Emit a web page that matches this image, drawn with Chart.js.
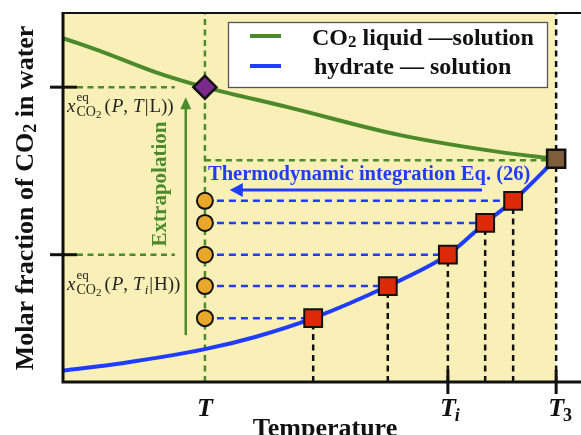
<!DOCTYPE html>
<html>
<head>
<meta charset="utf-8">
<script src="https://cdn.jsdelivr.net/npm/chart.js@4.4.1/dist/chart.umd.min.js"></script>
<style>
  html, body { margin: 0; padding: 0; background: #fff; overflow: hidden; }
  #wrap { width: 581px; height: 435px; overflow: hidden; }
  canvas { display: block; }
</style>
</head>
<body>
<div id="wrap"><canvas id="chart" width="581" height="435" style="width:581px;height:435px"></canvas></div>
<script>
// --- Data (arbitrary units: temperature 0-100 along the axis, molar fraction 0-100) ---
const T_EXTRAP = 27.4;   // T
const T_I = 74.3;        // T_i
const T_3 = 95.2;        // T_3
const tickTemps = [T_EXTRAP, T_I, T_3];
const tickLabels = ['T', 'T|i', 'T|3'];

// CO2 liquid - solution curve
const liquidT = [0, 8.1, 17.8, 27.4, 43.4, 65.1, 84.4, 95.2];
const liquidX = [93.2, 89.2, 84.0, 79.9, 74.5, 66.9, 62.3, 60.5];

// hydrate - solution curve
const hydrateT = [0, 11.4, 27.4, 37.1, 48.3, 62.7, 74.3, 81.5, 86.9, 95.2];
const hydrateX = [3.1, 5.1, 8.9, 12.2, 17.3, 26.0, 34.5, 43.1, 49.1, 60.5];

// simulated hydrate-solution points (squares) and their values carried to T (circles)
const simT = [48.3, 62.7, 74.3, 81.5, 86.9];
const simX = [17.3, 26.0, 34.5, 43.1, 49.1];

// extrapolated liquid value at T (diamond) and triple point (brown square)
const X_LIQ_AT_T = 79.9;
const X_HYD_AT_TI = 34.5;
const X_TRIPLE = 60.5;

// annotation arrows [from, to] in data units
const extrapArrow = { t: 23.7, from: 12.7, to: 77.2 };
const integArrow = { x: 52.0, from: 80.9, to: 32.2 };

const GREEN = '#4c8a2c';
const BLUE = '#1f3cff';
const YELLOW = '#f9f0b7';
const SERIF = '"Liberation Serif", "Times New Roman", serif';

const pts = (xs, ys) => xs.map((x, i) => ({ x: x, y: ys[i] }));

function segment(x1, y1, x2, y2, color, dash) {
    return {
        data: [{ x: x1, y: y1 }, { x: x2, y: y2 }],
        showLine: true, borderColor: color, borderWidth: 2.5, borderDash: dash,
        pointRadius: 0, order: 10
    };
}

// --- Build datasets ---
const datasets = [];
// guide lines
datasets.push(segment(T_EXTRAP, 0, T_EXTRAP, 100, GREEN, [6, 4.5]));
datasets.push(segment(T_3, 0, T_3, 100, '#111', [6, 4.5]));
datasets.push(segment(T_EXTRAP, X_TRIPLE - 0.4, T_3, X_TRIPLE - 0.4, GREEN, [6, 4.5]));
datasets.push(segment(2.7, X_LIQ_AT_T, 21.6, X_LIQ_AT_T, GREEN, [6, 4.5]));
datasets.push(segment(2.7, X_HYD_AT_TI, 21.6, X_HYD_AT_TI, GREEN, [6, 4.5]));
simT.forEach((t, i) => {
    datasets.push(segment(t, 0, t, simX[i], '#111', [6, 4.5]));
    datasets.push(segment(T_EXTRAP, simX[i], t, simX[i], BLUE, [7, 5]));
});
// curves
datasets.push({
    data: pts(liquidT, liquidX), showLine: true, borderColor: GREEN, borderWidth: 4,
    cubicInterpolationMode: 'monotone', pointRadius: 0, order: 5
});
datasets.push({
    data: pts(hydrateT, hydrateX), showLine: true, borderColor: BLUE, borderWidth: 4,
    cubicInterpolationMode: 'monotone', pointRadius: 0, order: 5
});
// markers
datasets.push({
    data: simX.map(x => ({ x: T_EXTRAP, y: x })), showLine: false,
    pointStyle: 'circle', pointRadius: 8, pointBackgroundColor: '#e9a82c',
    pointBorderColor: '#111', pointBorderWidth: 2, order: 1
});
datasets.push({
    data: pts(simT, simX), showLine: false,
    pointStyle: 'rect', pointRadius: 12.6, pointBackgroundColor: '#dc2a08',
    pointBorderColor: '#111', pointBorderWidth: 2, order: 1
});
datasets.push({
    data: [{ x: T_3, y: X_TRIPLE }], showLine: false,
    pointStyle: 'rect', pointRadius: 12.8, pointBackgroundColor: '#7e5d3c',
    pointBorderColor: '#111', pointBorderWidth: 2.5, order: 1
});
datasets.push({
    data: [{ x: T_EXTRAP, y: X_LIQ_AT_T }], showLine: false,
    pointStyle: 'rectRot', pointRadius: 11.5, pointBackgroundColor: '#7a2a8c',
    pointBorderColor: '#111', pointBorderWidth: 2.5, order: 1
});

// draws a run of text pieces: [text, font, dy, extra gap]
function drawRun(ctx, x, y, parts) {
    let cx = x;
    parts.forEach(p => {
        ctx.font = p[1];
        ctx.fillText(p[0], cx, y + (p[2] || 0));
        cx += ctx.measureText(p[0]).width + (p[3] || 0);
    });
    return cx - x;
}
function runWidth(ctx, parts) {
    let w = 0;
    parts.forEach(p => { ctx.font = p[1]; w += ctx.measureText(p[0]).width + (p[3] || 0); });
    return w;
}

function arrowHead(ctx, x, y, dx, dy, len, half) {
    ctx.beginPath();
    ctx.moveTo(x, y);
    ctx.lineTo(x - dx * len - dy * half, y - dy * len + dx * half);
    ctx.lineTo(x - dx * len + dy * half, y - dy * len - dx * half);
    ctx.closePath();
    ctx.fill();
}

function mathLabel(ctx, x, y, sub) {
    const it = 'italic 19px ' + SERIF, rm = '19px ' + SERIF, sm = '14px ' + SERIF, tiny = '11px ' + SERIF;
    ctx.fillStyle = '#222';
    ctx.font = it;
    ctx.fillText('x', x, y);
    const x1 = x + ctx.measureText('x').width + 1;
    ctx.font = '13px ' + SERIF;
    ctx.fillText('eq', x1, y - 11);
    const w = drawRun(ctx, x1, y + 4, [['CO', sm], ['2', tiny, 2]]);
    let parts = [['(', rm, 0, 1], ['P', it, 0, 0], [',', rm, 0, 5], ['T', it, 0, 1]];
    if (sub) parts.push(['i', 'italic 13px ' + SERIF, 4, 1]);
    parts = parts.concat([['|', rm, 0, 1], [sub ? 'H' : 'L', rm, 0, 0], [')', rm], [')', rm]]);
    drawRun(ctx, x1 + w + 3, y, parts);
}

const decorPlugin = {
    id: 'decor',
    beforeDatasetsDraw(chart) {
        const { ctx, chartArea: a, scales: { x, y } } = chart;
        ctx.save();
        ctx.fillStyle = YELLOW;
        ctx.fillRect(a.left, a.top, x.getPixelForValue(T_3) - a.left, a.bottom - a.top);
        ctx.restore();
    },
    afterDatasetsDraw(chart) {
        const { ctx, chartArea: a, scales: { x, y } } = chart;
        ctx.save();
        // frame
        ctx.strokeStyle = '#111';
        ctx.lineWidth = 2;
        ctx.beginPath(); ctx.moveTo(a.left, a.top); ctx.lineTo(chart.width, a.top); ctx.stroke();
        ctx.lineWidth = 3;
        ctx.beginPath(); ctx.moveTo(a.left, a.top - 1); ctx.lineTo(a.left, a.bottom); ctx.lineTo(chart.width, a.bottom); ctx.stroke();
        // y ticks
        [X_LIQ_AT_T, X_HYD_AT_TI].forEach(v => {
            const py = y.getPixelForValue(v);
            ctx.beginPath(); ctx.moveTo(a.left - 13, py); ctx.lineTo(a.left + 14, py); ctx.stroke();
        });
        // x ticks
        [T_I, T_3].forEach(v => {
            const px = x.getPixelForValue(v);
            ctx.beginPath(); ctx.moveTo(px, a.bottom - 12); ctx.lineTo(px, a.bottom + 12); ctx.stroke();
        });

        // arrows
        ctx.strokeStyle = GREEN; ctx.fillStyle = GREEN; ctx.lineWidth = 2.5;
        let ax = x.getPixelForValue(extrapArrow.t);
        let y0 = y.getPixelForValue(extrapArrow.from), y1 = y.getPixelForValue(extrapArrow.to);
        ctx.beginPath(); ctx.moveTo(ax, y0); ctx.lineTo(ax, y1 + 8); ctx.stroke();
        arrowHead(ctx, ax, y1, 0, -1, 12, 5.5);

        ctx.strokeStyle = BLUE; ctx.fillStyle = BLUE; ctx.lineWidth = 3;
        let ay = y.getPixelForValue(integArrow.x);
        let x0 = x.getPixelForValue(integArrow.from), x1 = x.getPixelForValue(integArrow.to);
        ctx.beginPath(); ctx.moveTo(x0, ay); ctx.lineTo(x1 + 8, ay); ctx.stroke();
        arrowHead(ctx, x1, ay, -1, 0, 13, 7);

        // legend
        ctx.fillStyle = '#fff';
        ctx.fillRect(228, 22, 319, 65);
        ctx.strokeStyle = '#555'; ctx.lineWidth = 1.3;
        ctx.strokeRect(228.5, 22.5, 319, 65);
        ctx.lineWidth = 4;
        ctx.strokeStyle = GREEN;
        ctx.beginPath(); ctx.moveTo(250, 36); ctx.lineTo(281, 36); ctx.stroke();
        ctx.strokeStyle = BLUE;
        ctx.beginPath(); ctx.moveTo(250, 66); ctx.lineTo(281, 66); ctx.stroke();
        ctx.fillStyle = '#111';
        const lf = 'bold 24px ' + SERIF;
        drawRun(ctx, 312, 45, [['CO', lf], ['2', 'bold 17px ' + SERIF, 2], [' liquid \u2014solution', lf]]);
        drawRun(ctx, 314, 74, [['hydrate \u2014 solution', lf]]);
        ctx.restore();
    },
    afterDraw(chart) {
        const { ctx, chartArea: a, scales: { x, y } } = chart;
        ctx.save();
        ctx.textBaseline = 'alphabetic';

        // integration text
        ctx.fillStyle = BLUE;
        ctx.font = 'bold 20.5px ' + SERIF;
        ctx.fillText('Thermodynamic integration Eq. (26)', 208, 180);

        // extrapolation text
        ctx.fillStyle = GREEN;
        ctx.save();
        ctx.translate(166, 184);
        ctx.rotate(-Math.PI / 2);
        ctx.font = 'bold 21px ' + SERIF;
        ctx.textAlign = 'center';
        ctx.fillText('Extrapolation', 0, 0);
        ctx.restore();

        // math labels
        mathLabel(ctx, 67, 112, false);
        mathLabel(ctx, 67, 290, true);

        // y axis title
        ctx.fillStyle = '#111';
        ctx.save();
        ctx.translate(33, 198);
        ctx.rotate(-Math.PI / 2);
        const yf = 'bold 26px ' + SERIF;
        const yParts = [['Molar fraction of CO', yf], ['2', 'bold 18px ' + SERIF, 3], [' in water', yf]];
        drawRun(ctx, -runWidth(ctx, yParts) / 2, 0, yParts);
        ctx.restore();

        // x axis title
        ctx.font = 'bold 26px ' + SERIF;
        ctx.textAlign = 'center';
        ctx.fillText('Temperature', 325, 436);

        // tick labels
        const tf = 'bold italic 26px ' + SERIF;
        tickTemps.forEach((t, i) => {
            const px = x.getPixelForValue(t);
            const [main, sub] = tickLabels[i].split('|');
            ctx.font = tf;
            ctx.textAlign = 'center';
            ctx.fillText(main, px, 416);
            if (sub) {
                const w = ctx.measureText(main).width;
                ctx.textAlign = 'left';
                ctx.font = (sub === 'i' ? 'bold italic ' : 'bold ') + '18px ' + SERIF;
                ctx.fillText(sub, px + w / 2 - 1, 421);
            }
        });
        ctx.restore();
    }
};

new Chart(document.getElementById('chart'), {
    type: 'scatter',
    data: { datasets: datasets },
    options: {
        responsive: false,
        animation: false,
        devicePixelRatio: 1,
        layout: { autoPadding: false, padding: { left: 63, top: 13, right: 0, bottom: 53 } },
        scales: {
            x: { type: 'linear', min: 0, max: 100, display: false },
            y: { type: 'linear', min: 0, max: 100, display: false }
        },
        plugins: { legend: { display: false }, tooltip: { enabled: false } }
    },
    plugins: [decorPlugin]
});
</script>
</body>
</html>
